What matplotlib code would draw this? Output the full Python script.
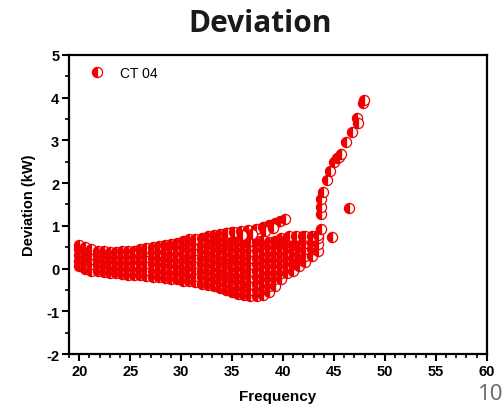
import matplotlib
matplotlib.use("Agg")
import matplotlib.pyplot as plt
from matplotlib.ticker import MultipleLocator

# main band: one line per column (same count in both lists)
main_freq = [
    20.0, 20.0, 20.0, 20.0, 20.0,
    20.6, 20.6, 20.6, 20.6, 20.6,
    21.2, 21.2, 21.2, 21.2, 21.2,
    21.8, 21.8, 21.8, 21.8, 21.8,
    22.4, 22.4, 22.4, 22.4, 22.4,
    23.0, 23.0, 23.0, 23.0, 23.0,
    23.6, 23.6, 23.6, 23.6, 23.6,
    24.2, 24.2, 24.2, 24.2, 24.2,
    24.8, 24.8, 24.8, 24.8, 24.8,
    25.4, 25.4, 25.4, 25.4, 25.4,
    26.0, 26.0, 26.0, 26.0, 26.0,
    26.6, 26.6, 26.6, 26.6, 26.6, 26.6,
    27.2, 27.2, 27.2, 27.2, 27.2, 27.2,
    27.8, 27.8, 27.8, 27.8, 27.8, 27.8,
    28.4, 28.4, 28.4, 28.4, 28.4, 28.4,
    29.0, 29.0, 29.0, 29.0, 29.0, 29.0, 29.0,
    29.6, 29.6, 29.6, 29.6, 29.6, 29.6, 29.6,
    30.2, 30.2, 30.2, 30.2, 30.2, 30.2, 30.2,
    30.8, 30.8, 30.8, 30.8, 30.8, 30.8, 30.8, 30.8,
    31.4, 31.4, 31.4, 31.4, 31.4, 31.4, 31.4, 31.4,
    32.0, 32.0, 32.0, 32.0, 32.0, 32.0, 32.0, 32.0,
    32.6, 32.6, 32.6, 32.6, 32.6, 32.6, 32.6, 32.6, 32.6,
    33.2, 33.2, 33.2, 33.2, 33.2, 33.2, 33.2, 33.2, 33.2,
    33.8, 33.8, 33.8, 33.8, 33.8, 33.8, 33.8, 33.8, 33.8, 33.8,
    34.4, 34.4, 34.4, 34.4, 34.4, 34.4, 34.4, 34.4, 34.4, 34.4,
    35.0, 35.0, 35.0, 35.0, 35.0, 35.0, 35.0, 35.0, 35.0, 35.0, 35.0,
    35.6, 35.6, 35.6, 35.6, 35.6, 35.6, 35.6, 35.6, 35.6, 35.6,
    36.2, 36.2, 36.2, 36.2, 36.2, 36.2, 36.2, 36.2, 36.2, 36.2,
    36.8, 36.8, 36.8, 36.8, 36.8, 36.8, 36.8, 36.8, 36.8, 36.8,
    37.4, 37.4, 37.4, 37.4, 37.4, 37.4, 37.4, 37.4, 37.4, 37.4,
    38.0, 38.0, 38.0, 38.0, 38.0, 38.0, 38.0, 38.0, 38.0, 38.0,
    38.6, 38.6, 38.6, 38.6, 38.6, 38.6, 38.6, 38.6, 38.6,
    39.2, 39.2, 39.2, 39.2, 39.2, 39.2, 39.2, 39.2,
    39.8, 39.8, 39.8, 39.8, 39.8, 39.8, 39.8, 39.8,
    40.4, 40.4, 40.4, 40.4, 40.4, 40.4, 40.4,
    41.0, 41.0, 41.0, 41.0, 41.0, 41.0,
    41.6, 41.6, 41.6, 41.6, 41.6, 41.6,
    42.2, 42.2, 42.2, 42.2, 42.2,
    42.8, 42.8, 42.8, 42.8,
    43.4, 43.4, 43.4,
]
main_dev = [
    0.05, 0.18, 0.32, 0.45, 0.55,
    0.0, 0.14, 0.28, 0.40, 0.50,
    -0.05, 0.10, 0.22, 0.35, 0.45,
    -0.05, 0.08, 0.20, 0.32, 0.42,
    -0.08, 0.05, 0.18, 0.30, 0.40,
    -0.10, 0.04, 0.16, 0.28, 0.38,
    -0.10, 0.02, 0.15, 0.27, 0.38,
    -0.12, 0.0, 0.14, 0.27, 0.40,
    -0.15, -0.02, 0.12, 0.26, 0.40,
    -0.15, -0.01, 0.13, 0.28, 0.42,
    -0.15, 0.0, 0.15, 0.30, 0.45,
    -0.18, -0.03, 0.12, 0.27, 0.40, 0.48,
    -0.20, -0.05, 0.10, 0.25, 0.38, 0.50,
    -0.20, -0.05, 0.10, 0.24, 0.38, 0.52,
    -0.22, -0.07, 0.08, 0.22, 0.38, 0.55,
    -0.25, -0.10, 0.05, 0.20, 0.35, 0.48, 0.58,
    -0.25, -0.10, 0.05, 0.20, 0.35, 0.50, 0.60,
    -0.28, -0.12, 0.03, 0.18, 0.33, 0.50, 0.65,
    -0.30, -0.15, 0.0, 0.15, 0.30, 0.45, 0.58, 0.68,
    -0.32, -0.17, -0.02, 0.13, 0.28, 0.43, 0.58, 0.70,
    -0.35, -0.20, -0.05, 0.10, 0.25, 0.40, 0.55, 0.72,
    -0.38, -0.22, -0.07, 0.08, 0.23, 0.38, 0.53, 0.68, 0.75,
    -0.40, -0.25, -0.10, 0.05, 0.20, 0.35, 0.50, 0.65, 0.78,
    -0.45, -0.30, -0.15, 0.0, 0.15, 0.30, 0.45, 0.60, 0.72, 0.80,
    -0.50, -0.35, -0.20, -0.05, 0.10, 0.25, 0.40, 0.55, 0.70, 0.82,
    -0.55, -0.40, -0.25, -0.10, 0.05, 0.20, 0.35, 0.50, 0.65, 0.78, 0.85,
    -0.60, -0.45, -0.30, -0.15, 0.0, 0.15, 0.30, 0.45, 0.60, 0.70,
    -0.62, -0.47, -0.32, -0.17, -0.02, 0.13, 0.28, 0.43, 0.58, 0.68,
    -0.65, -0.50, -0.35, -0.20, -0.05, 0.10, 0.25, 0.40, 0.55, 0.65,
    -0.65, -0.50, -0.35, -0.20, -0.05, 0.10, 0.25, 0.40, 0.55, 0.65,
    -0.62, -0.47, -0.32, -0.17, -0.02, 0.13, 0.28, 0.43, 0.58, 0.66,
    -0.55, -0.40, -0.25, -0.10, 0.05, 0.20, 0.35, 0.50, 0.63,
    -0.40, -0.25, -0.10, 0.05, 0.20, 0.35, 0.50, 0.65,
    -0.25, -0.10, 0.05, 0.20, 0.35, 0.50, 0.62, 0.72,
    -0.10, 0.05, 0.20, 0.35, 0.50, 0.62, 0.72,
    -0.05, 0.10, 0.25, 0.40, 0.55, 0.68,
    0.05, 0.20, 0.35, 0.50, 0.62, 0.73,
    0.15, 0.30, 0.45, 0.60, 0.72,
    0.30, 0.45, 0.60, 0.73,
    0.42, 0.58, 0.72,
]

# upper thin arm ending near 40 Hz
arm_freq = [34.5, 35.2, 35.9, 36.6, 37.3, 38.0, 38.6, 39.2, 39.7, 40.2,
            36.0, 37.0, 38.2, 39.0]
arm_dev = [0.83, 0.86, 0.88, 0.90, 0.92, 0.97, 1.02, 1.07, 1.12, 1.16,
           0.78, 0.80, 0.88, 0.95]

# second arm towards 44 Hz
side_freq = [40.6, 41.3, 42.0, 42.2, 42.8, 43.4, 44.8]
side_dev = [0.75, 0.77, 0.76, 0.75, 0.76, 0.78, 0.73]

# rising tail
tail_freq = [43.7, 43.7, 43.7, 43.7, 43.9, 44.3, 44.6, 45.0, 45.3, 45.5,
             45.7, 46.2, 46.8, 47.3, 47.4, 47.85, 47.95, 46.5]
tail_dev = [0.92, 1.27, 1.45, 1.62, 1.80, 2.08, 2.27, 2.50, 2.58, 2.62,
            2.67, 2.95, 3.20, 3.53, 3.41, 3.88, 3.95, 1.41]

freq = main_freq + arm_freq + side_freq + tail_freq
dev = main_dev + arm_dev + side_dev + tail_dev

plt.rcParams["font.family"] = ["Liberation Sans", "DejaVu Sans"]
plt.rcParams["axes.unicode_minus"] = False

RED = "#ee0000"
marker_kw = dict(linestyle="none", marker="o", markersize=7.3,
                 fillstyle="left", markerfacecolor=RED,
                 markerfacecoloralt="white", markeredgecolor=RED,
                 markeredgewidth=0.9)

fig = plt.figure(figsize=(5.04, 4.10), dpi=100)
ax = fig.add_axes([0.137, 0.134, 0.829, 0.730])

# one artist per point so later markers cover the white halves of earlier ones
for i, (f, d) in enumerate(zip(freq, dev)):
    ax.plot([f], [d], label="CT 04" if i == 0 else None, **marker_kw)

ax.set_xlim(19, 60)
ax.set_ylim(-2, 5)
ax.xaxis.set_major_locator(MultipleLocator(5))
ax.xaxis.set_minor_locator(MultipleLocator(1))
ax.yaxis.set_major_locator(MultipleLocator(1))
ax.yaxis.set_minor_locator(MultipleLocator(0.5))
ax.tick_params(which="major", direction="out", length=5, width=1.5,
               labelsize=10.5, pad=2)
ax.tick_params(which="minor", direction="out", length=3, width=1.2)
for lab in ax.get_xticklabels() + ax.get_yticklabels():
    lab.set_fontweight("bold")
for sp in ax.spines.values():
    sp.set_linewidth(1.6)

ax.set_xlabel("Frequency", fontsize=11, fontweight="bold", labelpad=8)
ax.set_ylabel("Deviation (kW)", fontsize=10.5, fontweight="bold", labelpad=7)

ax.legend(loc="upper left", bbox_to_anchor=(0.02, 1.0), frameon=False,
          fontsize=10, handletextpad=1.05, borderaxespad=0.4,
          handlelength=1.2)

fig.text(0.516, 0.942, "Deviation", ha="center", va="center", fontsize=21.5,
         fontweight="bold", family=["Open Sans", "DejaVu Sans"],
         color="#1a1a1a")
# slide page number peeking in at the bottom-right corner
fig.text(0.948, 0.012, "10", ha="left", va="bottom", fontsize=16,
         color="#666666", family=["Open Sans", "DejaVu Sans"])

fig.savefig("out.png", dpi=100)
